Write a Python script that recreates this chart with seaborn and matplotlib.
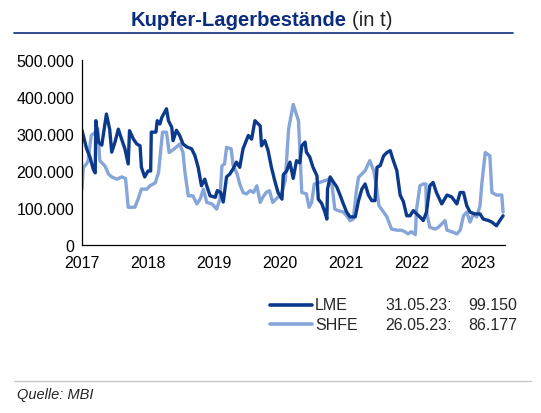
import numpy as np
import pandas as pd
import matplotlib
matplotlib.use("Agg")
import matplotlib.pyplot as plt
from matplotlib.ticker import FuncFormatter
from matplotlib.lines import Line2D
import seaborn as sns

# time in decimal years, stocks in thousand tonnes
lme_t = [2017.00, 2017.07, 2017.12, 2017.17, 2017.20, 2017.21, 2017.25, 2017.30, 2017.37, 2017.42,
         2017.45, 2017.50, 2017.55, 2017.60, 2017.65, 2017.70, 2017.72, 2017.78, 2017.83, 2017.88,
         2017.90, 2017.95, 2018.00, 2018.04, 2018.05, 2018.12, 2018.14, 2018.18, 2018.21, 2018.28,
         2018.31, 2018.36, 2018.38, 2018.43, 2018.48, 2018.53, 2018.59, 2018.66, 2018.71, 2018.76,
         2018.81, 2018.86, 2018.89, 2018.94, 2019.02, 2019.05, 2019.10, 2019.14, 2019.19, 2019.24,
         2019.29, 2019.34, 2019.39, 2019.44, 2019.52, 2019.57, 2019.62, 2019.70, 2019.72, 2019.77,
         2019.82, 2019.87, 2019.92, 2019.97, 2020.03, 2020.05, 2020.10, 2020.15, 2020.20, 2020.25,
         2020.30, 2020.33, 2020.38, 2020.40, 2020.45, 2020.50, 2020.56, 2020.58, 2020.63, 2020.68,
         2020.71, 2020.72, 2020.76, 2020.81, 2020.86, 2020.91, 2020.96, 2021.01, 2021.06, 2021.14,
         2021.19, 2021.24, 2021.29, 2021.34, 2021.39, 2021.44, 2021.47, 2021.52, 2021.57, 2021.62,
         2021.67, 2021.71, 2021.77, 2021.82, 2021.87, 2021.92, 2021.97, 2022.02, 2022.07, 2022.12,
         2022.17, 2022.22, 2022.27, 2022.32, 2022.37, 2022.45, 2022.53, 2022.60, 2022.68, 2022.73,
         2022.78, 2022.83, 2022.88, 2022.95, 2023.03, 2023.08, 2023.16, 2023.21, 2023.28, 2023.33,
         2023.38]
lme_v = [310, 260, 238, 205, 195, 336, 278, 270, 354, 312,
         251, 278, 313, 286, 260, 219, 309, 286, 273, 268,
         210, 184, 200, 200, 305, 305, 336, 327, 345, 368,
         336, 318, 282, 310, 296, 273, 265, 260, 242, 210,
         160, 178, 160, 133, 129, 147, 142, 116, 184, 192,
         206, 224, 210, 260, 296, 286, 336, 322, 268, 282,
         255, 210, 174, 142, 124, 190, 200, 224, 180, 228,
         222, 268, 278, 251, 238, 210, 187, 124, 113, 89,
         70, 151, 184, 170, 157, 135, 111, 89, 76, 76,
         120, 151, 165, 135, 120, 120, 210, 215, 241, 250,
         255, 232, 201, 135, 117, 79, 79, 93, 84, 76,
         66, 89, 160, 169, 142, 111, 135, 130, 111, 142,
         142, 106, 89, 84, 84, 70, 66, 62, 52, 66,
         79]

shfe_t = [2017.00, 2017.02, 2017.05, 2017.09, 2017.14, 2017.20, 2017.24, 2017.27, 2017.35, 2017.40,
          2017.45, 2017.53, 2017.60, 2017.66, 2017.70, 2017.80, 2017.85, 2017.90, 2017.98, 2018.03,
          2018.11, 2018.16, 2018.22, 2018.28, 2018.32, 2018.40, 2018.48, 2018.53, 2018.56, 2018.61,
          2018.68, 2018.74, 2018.79, 2018.84, 2018.89, 2018.97, 2019.04, 2019.09, 2019.12, 2019.16,
          2019.19, 2019.26, 2019.29, 2019.35, 2019.39, 2019.44, 2019.49, 2019.55, 2019.60, 2019.65,
          2019.70, 2019.74, 2019.79, 2019.84, 2019.89, 2019.96, 2020.01, 2020.08, 2020.13, 2020.20,
          2020.28, 2020.30, 2020.33, 2020.40, 2020.44, 2020.48, 2020.52, 2020.60, 2020.68, 2020.74,
          2020.79, 2020.83, 2020.88, 2020.96, 2021.01, 2021.06, 2021.11, 2021.16, 2021.19, 2021.24,
          2021.29, 2021.36, 2021.42, 2021.46, 2021.50, 2021.57, 2021.62, 2021.69, 2021.77, 2021.84,
          2021.89, 2021.94, 2021.99, 2022.05, 2022.07, 2022.12, 2022.17, 2022.21, 2022.22, 2022.27,
          2022.35, 2022.40, 2022.45, 2022.50, 2022.53, 2022.60, 2022.68, 2022.73, 2022.78, 2022.83,
          2022.88, 2022.93, 2022.98, 2023.03, 2023.06, 2023.11, 2023.18, 2023.21, 2023.28, 2023.36,
          2023.38]
shfe_v = [151, 210, 215, 225, 296, 305, 314, 228, 213, 192,
          184, 178, 184, 180, 102, 102, 124, 151, 151, 160,
          168, 196, 305, 305, 250, 260, 273, 250, 196, 133,
          133, 111, 124, 151, 115, 111, 97, 124, 214, 219,
          264, 260, 215, 192, 165, 142, 138, 147, 142, 160,
          115, 129, 142, 147, 115, 128, 133, 174, 313, 380,
          336, 260, 142, 138, 102, 115, 165, 169, 174, 178,
          160, 97, 93, 89, 79, 66, 70, 150, 183, 192,
          201, 228, 201, 160, 106, 89, 76, 43, 40, 40,
          36, 30, 36, 28, 97, 160, 165, 165, 89, 48,
          43, 48, 57, 66, 40, 36, 30, 40, 79, 89,
          62, 84, 76, 106, 169, 250, 241, 142, 135, 135,
          89]

series = ["LME", "SHFE"]
last_dates = ["31.05.23:", "26.05.23:"]
last_values = ["99.150", "86.177"]
year_ticks = [2017, 2018, 2019, 2020, 2021, 2022, 2023]

dark = "#0B3A8C"
light = "#86A5D8"

df = pd.concat([
    pd.DataFrame({"t": lme_t, "v": np.array(lme_v) * 1000, "s": "LME"}),
    pd.DataFrame({"t": shfe_t, "v": np.array(shfe_v) * 1000, "s": "SHFE"}),
])

sns.set_style("white")
plt.rcParams["font.family"] = ["Liberation Sans", "DejaVu Sans"]

W, H = 541, 414
fig = plt.figure(figsize=(W / 100, H / 100), dpi=100)
ax = fig.add_axes([82 / W, 1 - 246 / H, (505 - 82) / W, (246 - 61) / H])

# SHFE first so LME sits on top
sns.lineplot(data=df[df.s == "SHFE"], x="t", y="v", color=light, lw=2.4,
             sort=False, estimator=None, ax=ax)
sns.lineplot(data=df[df.s == "LME"], x="t", y="v", color=dark, lw=2.4,
             sort=False, estimator=None, ax=ax)

ax.set_xlim(2017, 2023 + 27 / 66)
ax.set_ylim(0, 500000)
ax.set_xticks(year_ticks)
ax.set_yticks(range(0, 500001, 100000))
ax.yaxis.set_major_formatter(FuncFormatter(lambda v, p: f"{v:,.0f}".replace(",", ".")))
ax.set_xlabel("")
ax.set_ylabel("")
for side in ["top", "right"]:
    ax.spines[side].set_visible(False)
for side in ["left", "bottom"]:
    ax.spines[side].set_color("black")
    ax.spines[side].set_linewidth(0.9)
ax.tick_params(axis="both", direction="inout", length=5, width=0.9, color="black",
               labelsize=11.5, labelcolor="black", pad=3)
ax.tick_params(axis="x", pad=5)

# title: bold part, then normal "(in t)"
ty = 1 - 20 / H
t1 = fig.text(131 / W, ty, "Kupfer-Lagerbestände", ha="left", va="center",
              fontsize=14.6, fontweight="bold", color="#0B2D7E")
fig.canvas.draw()
bb = t1.get_window_extent()
fig.text((bb.x1 + 5) / W, ty, "(in t)", ha="left", va="center",
         fontsize=14.6, color="#222222")
fig.add_artist(Line2D([14 / W, 513 / W], [1 - 34 / H, 1 - 34 / H],
                      color="#0B2D7E", lw=1.2))

# legend block
for i, (name, col) in enumerate(zip(series, [dark, light])):
    y = 1 - (306 + 19 * i) / H
    fig.add_artist(Line2D([270 / W, 312 / W], [y, y], color=col, lw=2.6))
    fig.text(315 / W, y, name, ha="left", va="center", fontsize=11.5)
    fig.text(385 / W, y, last_dates[i], ha="left", va="center", fontsize=11.5)
    fig.text(468 / W, y, last_values[i], ha="left", va="center", fontsize=11.5)

# footer
fig.add_artist(Line2D([14 / W, 531 / W], [1 - 382 / H, 1 - 382 / H],
                      color="#c8c8c8", lw=1.0))
fig.text(17 / W, 1 - 395 / H, "Quelle: MBI", ha="left", va="center",
         fontsize=10.5, style="italic")

fig.savefig("out.png", dpi=100)
